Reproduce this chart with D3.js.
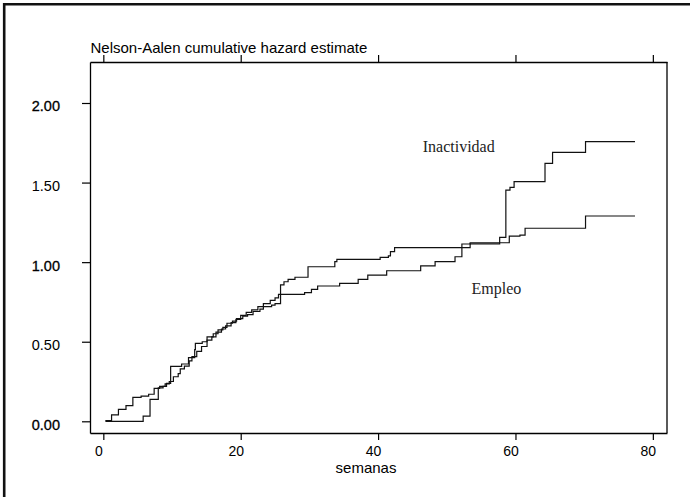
<!DOCTYPE html>
<html>
<head>
<meta charset="utf-8">
<script src="https://cdn.jsdelivr.net/npm/d3@7/dist/d3.min.js"></script>
<style>
  html, body { margin: 0; padding: 0; background: #fff; }
  svg { display: block; }
</style>
</head>
<body>
<script>
// ---- data (weeks, cumulative hazard) ----
const seriesNames = ["Empleo", "Inactividad"];
const endWeek = 77.4;
const empleoWeeks  = [0.3,1.2,2.2,3.3,4.3,5.5,6.6,7.4,8.2,9.0,9.6,10.2,10.9,11.2,11.8,12.5,12.9,13.6,14.3,15.1,15.8,16.4,17.2,17.8,18.6,19.3,20.0,20.8,21.6,22.5,23.3,24.3,25.0,25.5,29.3,30.3,31.2,34.4,37.1,38.5,41.25,46.2,48.3,51.2,52.2,53.4,59.1,60.65,61.4,70.2];
const empleoHazard = [0.005,0.04,0.075,0.098,0.15,0.158,0.17,0.207,0.22,0.235,0.25,0.28,0.30,0.33,0.347,0.38,0.406,0.44,0.47,0.51,0.53,0.56,0.58,0.60,0.62,0.64,0.665,0.685,0.70,0.72,0.74,0.76,0.775,0.798,0.808,0.829,0.85,0.867,0.892,0.919,0.946,0.976,1.003,1.034,1.114,1.122,1.164,1.17,1.213,1.29];
const inactWeeks  = [0.3,5.8,6.8,8.0,8.7,9.2,9.8,11.4,12.4,13.3,13.4,14.4,15.1,16.0,16.7,17.4,18.0,18.8,19.4,20.3,21.0,21.8,22.8,23.3,24.5,25.0,25.8,26.3,26.9,27.9,29.8,33.7,34.0,40.3,41.5,41.8,42.4,53.4,57.7,58.6,59.2,59.8,64.3,65.4,70.2];
const inactHazard = [0.0,0.033,0.138,0.21,0.22,0.238,0.345,0.36,0.40,0.45,0.49,0.50,0.53,0.55,0.574,0.59,0.616,0.63,0.645,0.66,0.67,0.69,0.705,0.72,0.73,0.74,0.857,0.877,0.892,0.905,0.971,1.003,1.018,1.03,1.039,1.066,1.091,1.115,1.156,1.453,1.47,1.506,1.621,1.69,1.757];
const xTicks = [0, 20, 40, 60, 80];
const yTicks = [0, 0.5, 1, 1.5, 2];
const boldYTicks = [0, 1, 2];
const labelPos = { Inactividad: [46.5, 1.69], Empleo: [53.6, 0.80] };

const W = 690, H = 497;
const svg = d3.select("body").append("svg").attr("width", W).attr("height", H);

// outer frame (cut at right / bottom)
svg.append("path").attr("d", `M4.2,${H} V4.2 H${W}`)
  .attr("fill", "none").attr("stroke", "#111").attr("stroke-width", 2.6);

const x = d3.scaleLinear().domain([-1.94, 82.06]).range([90, 667]);
const y = d3.scaleLinear().domain([-0.0735, 2.2576]).range([433, 62]);

const font = "'Liberation Sans', Arial, Helvetica, sans-serif";

// bottom axis
const gx = svg.append("g").attr("transform", `translate(0,${y.range()[0]})`)
  .call(d3.axisBottom(x).tickValues(xTicks).tickSize(7).tickSizeOuter(0).tickPadding(6.3).tickFormat(d3.format("d")));
gx.selectAll("text").attr("dx", -5);

// top axis (ticks only)
svg.append("g").attr("transform", `translate(0,${y.range()[1]})`)
  .call(d3.axisTop(x).tickValues(xTicks).tickSize(7).tickSizeOuter(0).tickFormat(""));

// left axis
const gy = svg.append("g").attr("transform", `translate(${x.range()[0]},0)`)
  .call(d3.axisLeft(y).tickValues(yTicks).tickSize(8).tickSizeOuter(0).tickPadding(22).tickFormat(d3.format(".2f")));

// right border
svg.append("line").attr("x1", x.range()[1]).attr("x2", x.range()[1])
  .attr("y1", y.range()[1]).attr("y2", y.range()[0])
  .attr("stroke", "#000").attr("stroke-width", 1.3);

svg.selectAll(".domain").attr("stroke", "#000").attr("stroke-width", 1.3);
svg.selectAll(".tick line").attr("stroke", "#000").attr("stroke-width", 1.2);
svg.selectAll(".tick text").attr("font-family", font).attr("font-size", 14).attr("fill", "#000");
gy.selectAll("text").attr("dy", "0.55em").attr("font-size", 14.5)
  .attr("stroke", d => boldYTicks.includes(d) ? "#000" : "none")
  .attr("stroke-width", 0.3);

// step curves
const line = d3.line().x(d => x(d[0])).y(d => y(d[1])).curve(d3.curveStepAfter);
function build(ws, hs) {
  const pts = ws.map((w, i) => [w, hs[i]]);
  pts.push([endWeek, hs[hs.length - 1]]);
  return pts;
}
const curves = [build(empleoWeeks, empleoHazard), build(inactWeeks, inactHazard)];
svg.append("g").selectAll("path").data(curves).join("path")
  .attr("d", line).attr("fill", "none").attr("stroke", "#111").attr("stroke-width", 1.2);

// series labels
seriesNames.forEach(n => {
  svg.append("text").attr("x", x(labelPos[n][0])).attr("y", y(labelPos[n][1]))
    .attr("font-family", "'Liberation Serif', 'Times New Roman', serif")
    .attr("font-size", 16).attr("fill", "#222").text(n);
});

// titles
svg.append("text").attr("x", 90.5).attr("y", 52.5)
  .attr("font-family", font).attr("font-size", 15).attr("fill", "#000")
  .text("Nelson-Aalen cumulative hazard estimate");
svg.append("text").attr("x", 366).attr("y", 473).attr("text-anchor", "middle")
  .attr("font-family", font).attr("font-size", 15).attr("fill", "#000")
  .text("semanas");
</script>
</body>
</html>
